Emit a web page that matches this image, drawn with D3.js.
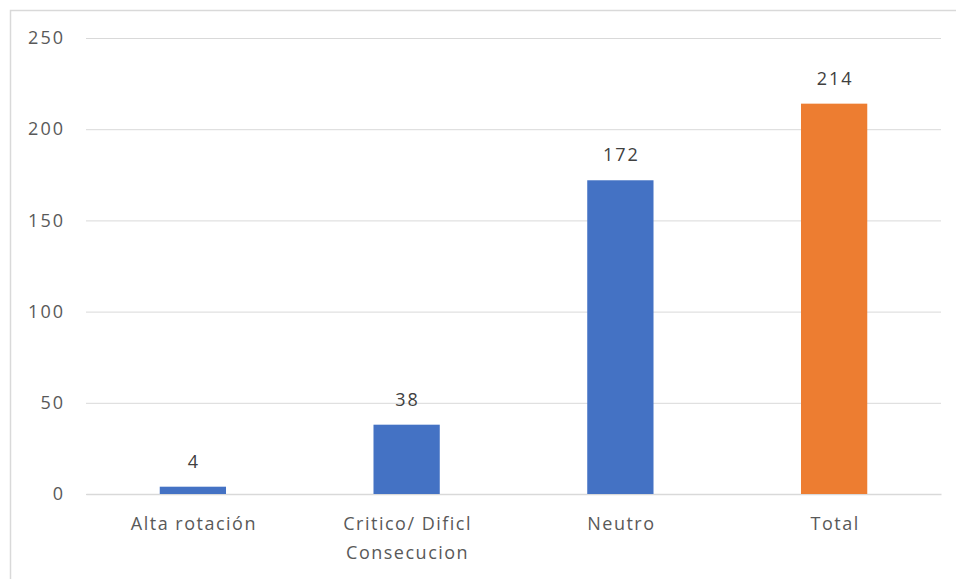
<!DOCTYPE html>
<html><head><meta charset="utf-8">
<script src="https://cdn.jsdelivr.net/npm/d3@7"></script>
<style>body{margin:0;background:#fff;} text{font-family:"Open Sans","Liberation Sans",sans-serif;}</style>
</head><body>
<svg id="c" width="956" height="579"></svg>
<script>
const categories = [["Alta rotación"], ["Critico/ Dificl", "Consecucion"], ["Neutro"], ["Total"]];
const values = [4, 38, 172, 214];
const barColors = ["#4472C4", "#4472C4", "#4472C4", "#ED7D31"];
const yTicks = [0, 50, 100, 150, 200, 250];

const svg = d3.select("#c");
svg.append("rect").attr("x", 10.5).attr("y", 10.5).attr("width", 1000).attr("height", 1000)
  .attr("fill", "#fff").attr("stroke", "#d9d9d9").attr("stroke-width", 1.5);

const mLeft = 86, mRight = 941, mTop = 38, mBottom = 494;
const keys = categories.map((c, i) => i);
const x = d3.scaleBand().domain(keys).range([mLeft, mRight]).paddingInner(0.69).paddingOuter(0.345);
const y = d3.scaleLinear().domain([0, 250]).range([mBottom, mTop]);

const yAxis = d3.axisLeft(y).tickValues(yTicks).tickSize(-(mRight - mLeft)).tickPadding(21);
const gy = svg.append("g").attr("transform", `translate(${mLeft},0)`).call(yAxis);
gy.select(".domain").remove();
gy.selectAll("line").attr("stroke", "#d9d9d9").attr("stroke-width", 1);
gy.selectAll("text").attr("fill", "#595959").style("font-size", "18px").style("letter-spacing", "2px");

const xAxis = d3.axisBottom(x).tickSize(0).tickFormat("");
const gx = svg.append("g").attr("transform", `translate(0,${mBottom})`).call(xAxis);
gx.select(".domain").attr("stroke", "#d9d9d9").attr("stroke-width", 1.5);
gx.selectAll(".tick").each(function(d) {
  const t = d3.select(this).append("text").attr("fill", "#595959").style("font-size", "18px")
    .style("letter-spacing", "1.5px").attr("text-anchor", "middle");
  categories[d].forEach((line, j) => {
    t.append("tspan").attr("x", 1).attr("y", 36 + j * 29).text(line);
  });
});

svg.append("g").selectAll("rect").data(values).join("rect")
  .attr("x", (d, i) => x(i)).attr("width", x.bandwidth())
  .attr("y", d => y(d)).attr("height", d => y(0) - y(d))
  .attr("fill", (d, i) => barColors[i]);

svg.append("g").selectAll("text").data(values).join("text")
  .attr("x", (d, i) => x(i) + x.bandwidth() / 2 + 1).attr("y", d => y(d) - 19)
  .attr("text-anchor", "middle").attr("fill", "#404040").style("font-size", "18px")
  .style("letter-spacing", "2px")
  .text(d => d);
</script>
</body></html>
